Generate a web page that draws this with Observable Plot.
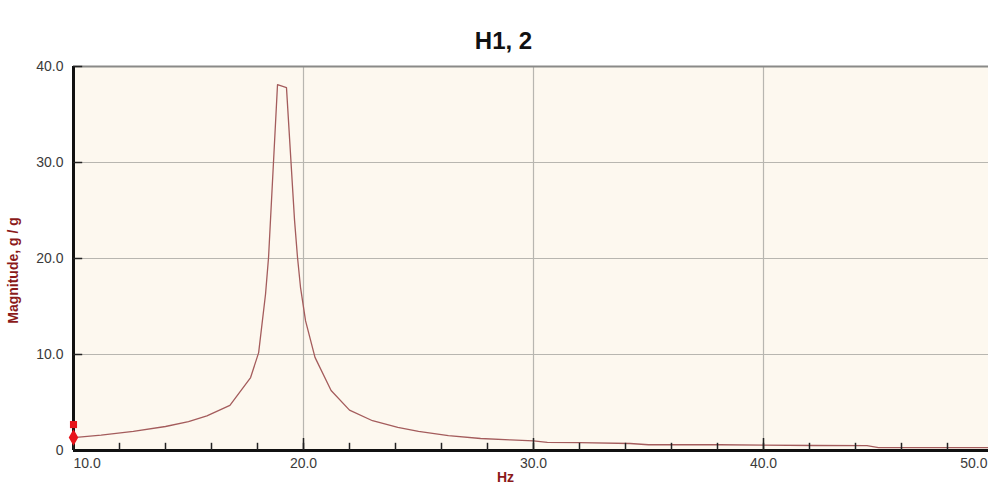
<!DOCTYPE html>
<html>
<head>
<meta charset="utf-8">
<script src="https://cdn.jsdelivr.net/npm/d3@7"></script>
<script src="https://cdn.jsdelivr.net/npm/@observablehq/plot@0.6"></script>
<style>
  html, body { margin: 0; padding: 0; background: #fff; overflow: hidden; }
  #chart svg { overflow: hidden; }
</style>
</head>
<body>
<div id="chart"></div>
<script>
// Frequency response function H1,2 — magnitude vs frequency
const freqHz = [10.0, 11.2, 12.6, 14.0, 15.0, 15.8, 16.8, 17.7, 18.05, 18.35, 18.48, 18.87, 19.26, 19.61, 19.74, 19.87, 20.09, 20.5, 21.2, 22.0, 23.0, 24.1, 25.0, 26.3, 27.7, 29.0, 30.0, 30.6, 32.0, 34.2, 35.0, 36.4, 38.1, 42.2, 44.5, 45.0, 50.0];
const magnitude = [1.35, 1.6, 2.0, 2.5, 3.0, 3.6, 4.7, 7.6, 10.2, 16.3, 20.1, 38.1, 37.8, 24.0, 20.1, 17.0, 13.5, 9.7, 6.25, 4.2, 3.1, 2.4, 2.0, 1.56, 1.25, 1.1, 1.0, 0.85, 0.83, 0.73, 0.6, 0.6, 0.6, 0.52, 0.5, 0.3, 0.3];

const xMajorTicks = [10, 20, 30, 40, 50];
const xMinorTicks = d3.range(10, 51, 2);
const yTicks = [0, 10, 20, 30, 40];
const xGrid = [20, 30, 40];
const yGrid = [10, 20, 30];
const cursorLevels = [1.35, 2.7];

const data = freqHz.map((f, i) => ({f, m: magnitude[i]}));
const fmt = d => d === 0 ? "0" : d.toFixed(1);

const font = "Liberation Sans, Arial, sans-serif";
const labelColor = "#3a3a3a";
const titleRed = "#8b1a1a";

const chart = Plot.plot({
  width: 988,
  height: 488,
  marginTop: 66,
  marginBottom: 38,
  marginLeft: 73,
  marginRight: -5,
  style: {fontFamily: font, background: "#fff"},
  x: {domain: [10, 50], axis: null},
  y: {domain: [0, 40], axis: null},
  marks: [
    Plot.frame({fill: "#fdf8ef", stroke: null}),
    Plot.ruleX(xGrid, {stroke: "#b8b6b0", strokeWidth: 1.2}),
    Plot.ruleY(yGrid, {stroke: "#b8b6b0", strokeWidth: 1.2}),
    Plot.ruleY([40], {stroke: "#8a8a88", strokeWidth: 2}),
    // response curve
    Plot.line(data, {x: "f", y: "m", stroke: "#a45c5c", strokeWidth: 1.3}),
    // axis lines
    Plot.ruleX([10], {stroke: "#111", strokeWidth: 3}),
    Plot.ruleY([0], {stroke: "#111", strokeWidth: 3}),
    // inward ticks
    Plot.ruleX(xMinorTicks, {y1: 0, y2: 0.75, stroke: "#222", strokeWidth: 1.5}),
    Plot.ruleX(xMajorTicks.slice(1), {y1: 0, y2: 1.25, stroke: "#222", strokeWidth: 1.5}),
    Plot.ruleY(yTicks.slice(1), {x1: 10, x2: 10.4, stroke: "#222", strokeWidth: 1.5}),
    // cursor markers on the left axis
    Plot.dot([cursorLevels[0]], {x: 10, y: d => d, symbol: "diamond", r: 5, fill: "#e8141a", stroke: null}),
    Plot.dot([cursorLevels[1]], {x: 10, y: d => d, symbol: "square", r: 4, fill: "#e8141a", stroke: null}),
    // tick labels
    Plot.text(xMajorTicks.slice(0, 1), {x: d => d, y: 0, dy: 13, text: fmt, textAnchor: "start", fontSize: 14, fill: labelColor}),
    Plot.text(xMajorTicks.slice(1, -1), {x: d => d, y: 0, dy: 13, text: fmt, fontSize: 14, fill: labelColor}),
    Plot.text(xMajorTicks.slice(-1), {x: d => d, y: 0, dy: 13, dx: -6, text: fmt, textAnchor: "end", fontSize: 14, fill: labelColor}),
    Plot.text(yTicks, {x: 10, y: d => d, text: fmt, textAnchor: "end", fontSize: 14, fill: labelColor, dx: -10}),
    // titles
    Plot.text(["H1, 2"], {frameAnchor: "top", dx: -30, dy: -35, fontSize: 24, fontWeight: "bold", fill: "#111"}),
    Plot.text(["Hz"], {frameAnchor: "bottom", dx: -28, dy: 31, fontSize: 14, fontWeight: "bold", fill: titleRed}),
    Plot.text(["Magnitude, g / g"], {frameAnchor: "left", textAnchor: "middle", dx: -60, dy: 12, rotate: -90, fontSize: 14, fontWeight: "bold", fill: titleRed})
  ]
});
document.getElementById("chart").append(chart);
</script>
</body>
</html>
